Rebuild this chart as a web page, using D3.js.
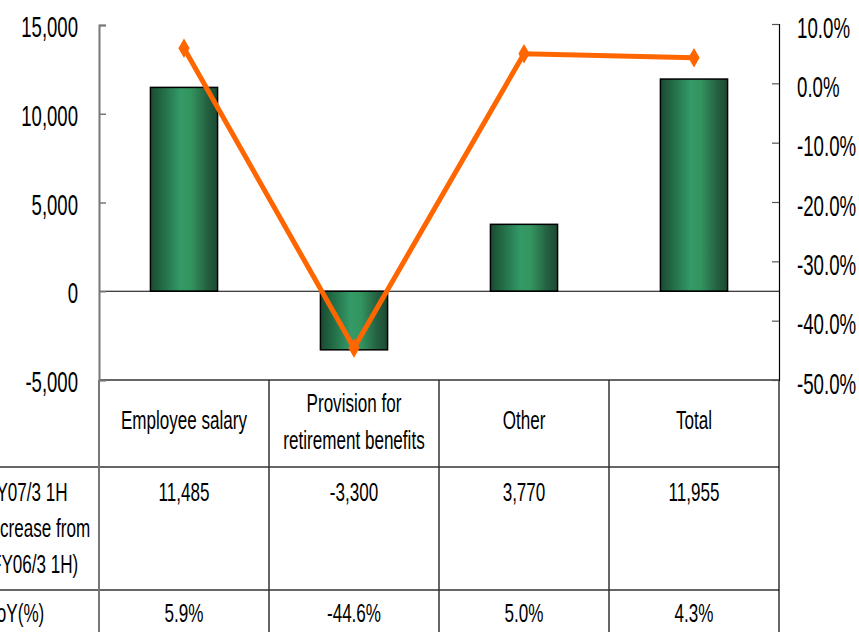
<!DOCTYPE html>
<html><head><meta charset="utf-8">
<script src="https://cdn.jsdelivr.net/npm/d3@7/dist/d3.min.js"></script>
<style>
html,body{margin:0;padding:0;background:#fff;}
svg{display:block;font-family:'Liberation Sans',Arial,sans-serif;}
</style></head>
<body><svg id="c" width="859" height="632"></svg>
<script>
const categories = ["Employee salary", "Provision for\nretirement benefits", "Other", "Total"];
const increase = [11485, -3300, 3770, 11955];
const yoy = [5.9, -44.6, 5.0, 4.3];
const increaseLabels = ["11,485", "-3,300", "3,770", "11,955"];
const yoyLabels = ["5.9%", "-44.6%", "5.0%", "4.3%"];
const leftTicks = [-5000, 0, 5000, 10000, 15000];
const rightTicks = [10, 0, -10, -20, -30, -40, -50];
const rowLabels = [["FY07/3 1H", "(increase from", "FY06/3 1H)"], ["YoY(%)"]];

const W = 859, H = 632;
const L = 99, R = 779, T = 25, B = 380;
const svg = d3.select("#c");

function narrow(sel, sx) {
  sel.each(function () {
    const t = d3.select(this);
    const x0 = +t.attr("x") || 0;
    t.attr("x", x0 / sx).attr("transform", `scale(${sx},1)`);
  });
}

const defs = svg.append("defs");
const grad = defs.append("linearGradient").attr("id", "barGrad").attr("x1", "0").attr("x2", "1").attr("y1", "0").attr("y2", "0");
[[0, "#1a4a31"], [0.18, "#226b45"], [0.45, "#349a67"], [0.6, "#33955f"], [0.85, "#245f40"], [1, "#1a4a31"]]
  .forEach(([o, c]) => grad.append("stop").attr("offset", o).attr("stop-color", c));

const x = d3.scaleBand().domain(categories).range([L, R]).padding(0);
const y = d3.scaleLinear().domain([-5000, 15000]).range([B, T]);
const yR = d3.scaleLinear().domain([-50, 10]).range([B, 24]);
const bw = x.bandwidth() * 0.395;
const cx = d => x(d) + x.bandwidth() / 2;

// bars
svg.append("g").selectAll("rect").data(categories).join("rect")
  .attr("x", d => cx(d) - bw / 2)
  .attr("y", (d, i) => y(Math.max(0, increase[i])))
  .attr("width", bw)
  .attr("height", (d, i) => Math.abs(y(increase[i]) - y(0)))
  .attr("fill", "url(#barGrad)")
  .attr("stroke", "#000").attr("stroke-width", 1.5);

// zero line
svg.append("line").attr("x1", L).attr("x2", R).attr("y1", y(0)).attr("y2", y(0))
  .attr("stroke", "#000").attr("stroke-width", 1.2);

// table lines
const tbl = svg.append("g").attr("stroke", "#333").attr("stroke-width", 1.5);
tbl.append("line").attr("x1", L).attr("x2", R).attr("y1", y(-5000)).attr("y2", y(-5000));
[467, 590].forEach(yy => tbl.append("line").attr("x1", 0).attr("x2", R).attr("y1", yy).attr("y2", yy));
categories.slice(1).forEach(d => tbl.append("line").attr("x1", x(d)).attr("x2", x(d)).attr("y1", B).attr("y2", H));
svg.append("line").attr("x1", L).attr("x2", L).attr("y1", B).attr("y2", H).attr("stroke", "#777").attr("stroke-width", 2);
svg.append("line").attr("x1", R).attr("x2", R).attr("y1", B).attr("y2", H).attr("stroke", "#000").attr("stroke-width", 1.2);

// left axis
const gl = svg.append("g").attr("transform", `translate(${L},0)`)
  .call(d3.axisLeft(y).tickValues(leftTicks).tickFormat(d => d3.format(",")(d).replace("\u2212", "-")).tickSize(-7).tickPadding(21));
gl.select(".domain").attr("stroke", "#777").attr("stroke-width", 2);
gl.selectAll(".tick line").attr("stroke", "#777").attr("stroke-width", 1.5);
gl.selectAll(".tick text").attr("font-size", 29).attr("dy", "0.4em").attr("fill", "#000").attr("font-family", null).call(narrow, 0.64);

// right axis
const gr = svg.append("g").attr("transform", `translate(${R},0)`)
  .call(d3.axisRight(yR).tickValues(rightTicks).tickFormat(d => d.toFixed(1) + "%").tickSize(-7).tickPadding(18));
gr.select(".domain").attr("stroke", "#000").attr("stroke-width", 1.2);
gr.selectAll(".tick line").attr("stroke", "#555").attr("stroke-width", 1.2);
gr.selectAll(".tick text").attr("font-size", 29).attr("dy", "0.45em").attr("fill", "#000").attr("font-family", null).call(narrow, 0.645);

// line series
const line = d3.line().x((d, i) => cx(categories[i])).y(d => yR(d));
svg.append("path").datum(yoy).attr("d", line).attr("fill", "none")
  .attr("stroke", "#FF6600").attr("stroke-width", 5).attr("stroke-linejoin", "miter");
svg.append("g").selectAll("path").data(yoy).join("path")
  .attr("transform", (d, i) => `translate(${cx(categories[i])},${yR(d)})`)
  .attr("d", d3.symbol(d3.symbolDiamond, 110))
  .attr("fill", "#FF6600");

// table texts
const FS = 25.5, TSX = 0.67;
const tx = svg.append("g").attr("font-size", FS).attr("fill", "#000").attr("text-anchor", "middle");
categories.forEach(d => {
  const lines = d.split("\n");
  const base = lines.length === 1 ? [429] : [412, 449];
  lines.forEach((s, j) => tx.append("text").attr("x", cx(d)).attr("y", base[j]).text(s));
});
categories.forEach((d, i) => {
  tx.append("text").attr("x", cx(d)).attr("y", 501).text(increaseLabels[i]);
  tx.append("text").attr("x", cx(d)).attr("y", 622).text(yoyLabels[i]);
});
const rowStarts = [-14, -19, -9];
const rl = svg.append("g").attr("font-size", FS).attr("fill", "#000").attr("text-anchor", "start");
rowLabels[0].forEach((s, j) => rl.append("text").attr("x", rowStarts[j]).attr("y", 501 + j * 36).text(s));
rl.append("text").attr("x", -13).attr("y", 622).text(rowLabels[1][0]);
tx.selectAll("text").call(narrow, TSX);
rl.selectAll("text").call(narrow, TSX);
</script></body></html>
